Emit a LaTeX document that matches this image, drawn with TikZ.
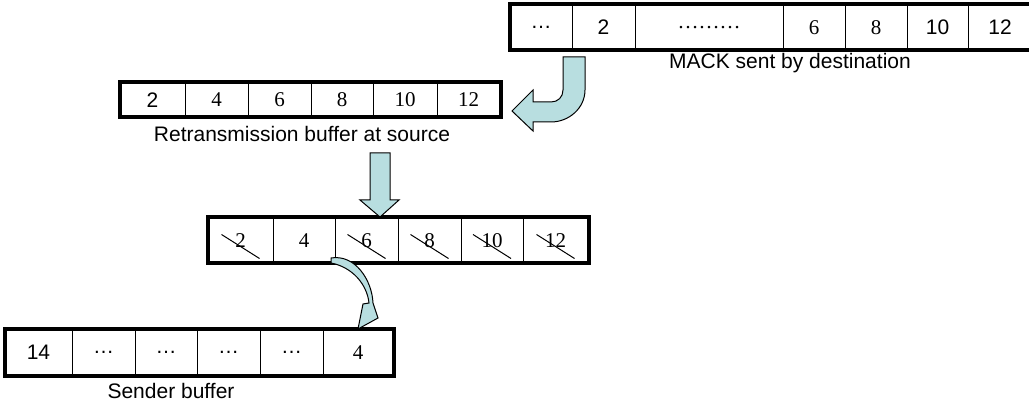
\documentclass[tikz,border=0pt]{standalone}
\usepackage{fontspec}
\setmainfont{Liberation Sans}
\newfontfamily\serifnum{Liberation Serif}
\usetikzlibrary{positioning}
\tikzset{cell/.style = {draw, line width = 1pt, inner sep = 0, font = \fontsize{21}{24}\selectfont}}
\tikzset{rim/.style = {draw, line width = 4pt}}
\tikzset{caption/.style = {inner sep = 0, font = \fontsize{21}{24}\selectfont}}
\tikzset{blockarrow/.style = {fill = arrowblue, draw = black, line width = 1pt, line join = miter}}
\tikzset{strike/.style = {line width = 1pt}}
\definecolor{arrowblue}{rgb}{0.72, 0.87, 0.88}

\begin{document}
\begin{tikzpicture}[x = 1pt, y = -1pt]
  \useasboundingbox (0, 0) rectangle (1029, 406);

  % MACK at destination
  \foreach \l/\r/\t [count = \i] in {510/572/{\dots}, 572/635/2, 635/783/{\serifnum\dots\dots\dots},
      783/845/{\serifnum 6}, 845/907/{\serifnum 8}, 907/968/10, 968/1032/12} {
    \node [cell, minimum width = \r - \l, minimum height = 45] (mack\i) at ({(\l + \r)/2}, 27.5) {\t};
  }
  \draw [rim] (mack1.north west) rectangle (mack7.south east);
  \node [caption] (mackcap) at (790, 63) {MACK sent by destination};

  % retransmission buffer
  \foreach \l/\r/\t [count = \i] in {120/185/2, 185/248/{\serifnum 4}, 248/311/{\serifnum 6},
      311/373/{\serifnum 8}, 373/437/{\serifnum 10}, 437/500/{\serifnum 12}} {
    \node [cell, minimum width = \r - \l, minimum height = 34] (retx\i) at ({(\l + \r)/2}, 100) {\t};
  }
  \draw [rim] (retx1.north west) rectangle (retx6.south east);
  \node [caption] (retxcap) at (302, 134) {Retransmission buffer at source};

  % buffer after the MACK
  \foreach \l/\r/\t [count = \i] in {208/273/2, 273/335/4, 335/398/6, 398/461/8, 461/523/10, 523/588/12} {
    \node [cell, minimum width = \r - \l, minimum height = 45, font = \fontsize{21}{24}\serifnum] (acked\i) at ({(\l + \r)/2}, 240.5) {\t};
  }
  \draw [rim] (acked1.north west) rectangle (acked6.south east);
  \foreach \i in {1, 3, 4, 5, 6} {
    \draw [strike] (acked\i.center) ++(-19, -6) -- ++(38, 24);
  }

  % sender buffer
  \foreach \l/\r/\t [count = \i] in {5/72/14, 72/135/{\dots}, 135/197/{\dots}, 197/260/{\dots},
      260/323/{\dots}, 323/393/{\serifnum 4}} {
    \node [cell, minimum width = \r - \l, minimum height = 45] (snd\i) at ({(\l + \r)/2}, 352.5) {\t};
  }
  \draw [rim] (snd1.north west) rectangle (snd6.south east);
  \node [caption] (sndcap) at (171, 391) {Sender buffer};

  \draw [blockarrow] (563, 57) -- (563, 90) .. controls (563, 97) and (558, 102) .. (551, 102)
    -- (533, 102) -- (533, 90) -- (512, 111) -- (533, 131) -- (533, 122) -- (551, 122)
    .. controls (569, 122) and (585, 108) .. (585, 90) -- (585, 57) -- cycle;
  \draw [blockarrow] (370, 153) -- (370, 200) -- (360, 200) -- (380, 217) -- (399, 200)
    -- (390, 200) -- (390, 153) -- cycle;
  \draw [blockarrow] (331, 258) .. controls (355, 254) and (372, 280) .. (373, 303)
    -- (378, 318) -- (358, 329) -- (363, 304) -- (369, 303)
    .. controls (367, 284) and (352, 267) .. (331, 263) -- cycle;
\end{tikzpicture}
\end{document}
